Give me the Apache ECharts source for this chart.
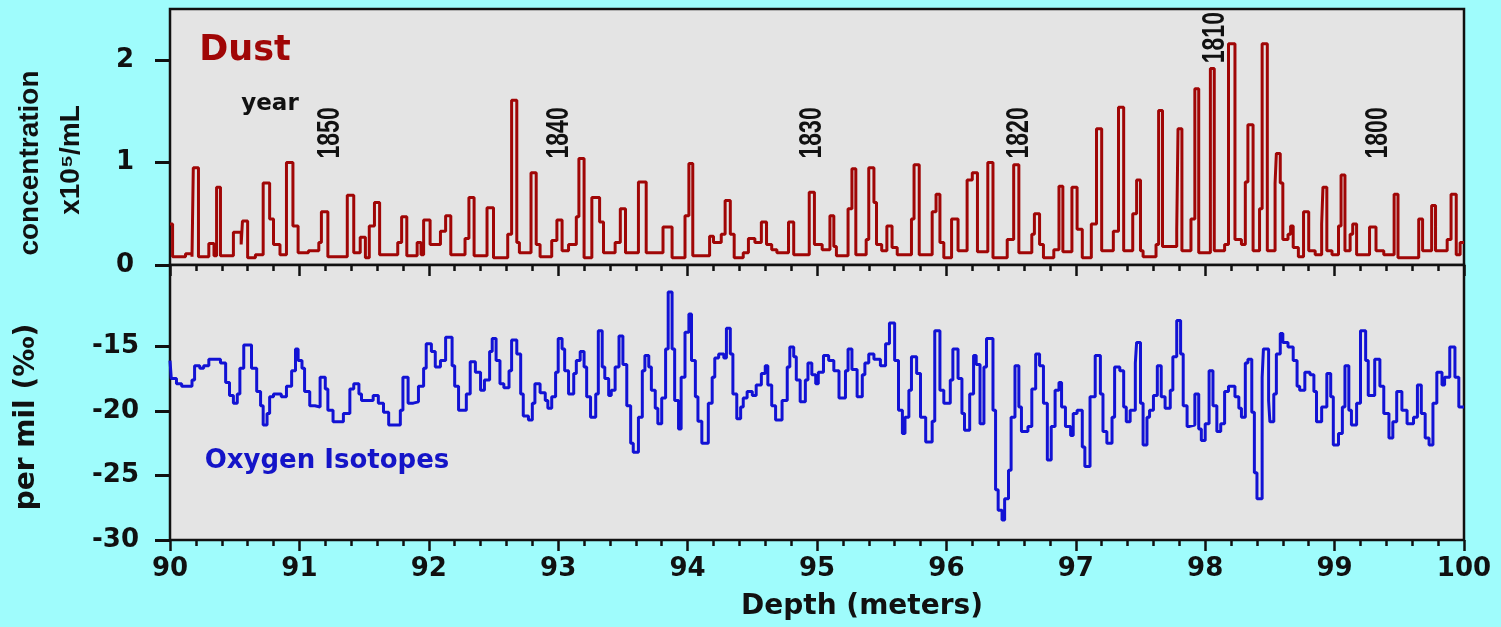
<!DOCTYPE html>
<html><head><meta charset="utf-8">
<script src="https://cdn.jsdelivr.net/npm/echarts@6/dist/echarts.min.js"></script>
<style>html,body{margin:0;padding:0;background:#9ffcfc;}#c{width:1501px;height:627px;}</style>
</head><body><div id="c"></div><script>
// Dust concentration (x10^5 / mL), step values: [depth m, value] holds until next depth
const dust = [
[90.00,0.40],[90.02,0.08],[90.12,0.11],[90.17,0.08],[90.18,0.95],[90.22,0.08],[90.30,0.21],[90.34,0.09],
[90.36,0.76],[90.39,0.09],[90.49,0.32],[90.55,0.20],[90.56,0.43],[90.60,0.07],[90.66,0.10],[90.72,0.80],
[90.77,0.45],[90.80,0.20],[90.85,0.10],[90.90,1.00],[90.95,0.38],[90.99,0.12],[91.07,0.14],[91.15,0.22],
[91.17,0.52],[91.22,0.08],[91.37,0.68],[91.42,0.12],[91.47,0.27],[91.51,0.07],[91.54,0.38],[91.58,0.61],
[91.62,0.10],[91.76,0.22],[91.79,0.47],[91.83,0.09],[91.91,0.22],[91.94,0.10],[91.96,0.44],[92.01,0.20],
[92.09,0.33],[92.13,0.48],[92.17,0.10],[92.28,0.26],[92.31,0.66],[92.35,0.09],[92.45,0.56],[92.50,0.07],
[92.61,0.30],[92.64,1.61],[92.68,0.22],[92.70,0.12],[92.79,0.90],[92.83,0.20],[92.86,0.08],[92.95,0.24],
[92.99,0.44],[93.03,0.14],[93.08,0.20],[93.14,0.47],[93.16,1.04],[93.20,0.07],[93.26,0.66],[93.32,0.42],
[93.35,0.12],[93.44,0.22],[93.48,0.55],[93.52,0.12],[93.62,0.81],[93.68,0.12],[93.81,0.37],[93.88,0.07],
[93.98,0.48],[94.01,0.99],[94.04,0.09],[94.17,0.28],[94.20,0.22],[94.26,0.30],[94.29,0.63],[94.33,0.30],
[94.36,0.07],[94.43,0.12],[94.47,0.26],[94.52,0.22],[94.57,0.42],[94.61,0.20],[94.65,0.15],[94.69,0.12],
[94.78,0.42],[94.82,0.10],[94.94,0.71],[94.98,0.20],[95.04,0.15],[95.10,0.48],[95.13,0.18],[95.15,0.09],
[95.24,0.55],[95.27,0.94],[95.30,0.10],[95.38,0.25],[95.40,0.95],[95.44,0.61],[95.46,0.20],[95.50,0.14],
[95.54,0.38],[95.58,0.17],[95.62,0.10],[95.73,0.45],[95.75,0.98],[95.79,0.10],[95.89,0.52],[95.92,0.69],
[95.95,0.22],[95.98,0.07],[96.04,0.45],[96.09,0.14],[96.16,0.83],[96.20,0.90],[96.24,0.13],[96.32,1.00],
[96.36,0.07],[96.47,0.25],[96.52,0.98],[96.56,0.12],[96.66,0.30],[96.68,0.50],[96.72,0.20],[96.75,0.07],
[96.83,0.15],[96.87,0.77],[96.90,0.13],[96.97,0.76],[97.01,0.35],[97.05,0.07],[97.12,0.40],[97.16,1.33],
[97.20,0.14],[97.29,0.33],[97.33,1.54],[97.37,0.14],[97.44,0.50],[97.47,0.83],[97.50,0.14],[97.52,0.08],
[97.62,0.20],[97.64,1.51],[97.67,0.18],[97.78,0.35],[97.79,1.33],[97.82,0.14],[97.89,0.45],[97.92,1.72],
[97.95,0.12],[98.04,1.92],[98.07,0.14],[98.15,0.20],[98.18,2.16],[98.23,0.25],[98.28,0.20],[98.31,0.81],
[98.33,1.37],[98.37,0.14],[98.42,0.55],[98.44,2.16],[98.48,0.14],[98.54,0.80],[98.55,1.09],[98.58,0.80],
[98.60,0.25],[98.64,0.30],[98.66,0.38],[98.68,0.17],[98.72,0.08],[98.76,0.52],[98.80,0.14],[98.85,0.10],
[98.90,0.40],[98.91,0.76],[98.94,0.14],[98.98,0.10],[99.03,0.38],[99.05,0.88],[99.08,0.14],[99.12,0.30],
[99.14,0.40],[99.17,0.10],[99.27,0.37],[99.32,0.14],[99.38,0.10],[99.46,0.69],[99.49,0.07],[99.65,0.45],
[99.68,0.14],[99.75,0.58],[99.78,0.14],[99.87,0.25],[99.90,0.69],[99.94,0.10],[99.97,0.22],[100.00,0.22]
];
// Oxygen isotopes (per mil), step values: [depth m, value]
const oxygen = [
[90.00,-16.1],[90.01,-17.5],[90.05,-17.9],[90.09,-18.1],[90.17,-17.6],[90.19,-16.5],[90.23,-16.7],[90.26,-16.5],
[90.30,-16.0],[90.39,-16.3],[90.43,-17.8],[90.46,-18.8],[90.49,-19.4],[90.52,-18.7],[90.54,-16.7],[90.57,-14.9],
[90.63,-16.7],[90.67,-18.5],[90.70,-19.6],[90.72,-21.1],[90.75,-20.2],[90.77,-18.9],[90.80,-18.7],[90.86,-18.9],
[90.90,-18.1],[90.94,-16.9],[90.97,-15.2],[90.99,-16.1],[91.02,-16.7],[91.04,-18.5],[91.08,-19.6],[91.12,-19.7],
[91.16,-17.4],[91.20,-18.3],[91.22,-19.95],[91.26,-20.85],[91.34,-20.2],[91.39,-18.3],[91.42,-17.9],[91.46,-18.7],
[91.48,-19.2],[91.57,-18.8],[91.61,-19.4],[91.65,-20.1],[91.69,-21.1],[91.78,-19.95],[91.80,-17.4],[91.84,-19.4],
[91.88,-19.3],[91.92,-18.1],[91.96,-16.7],[91.98,-14.8],[92.02,-15.4],[92.05,-16.6],[92.09,-16.1],[92.13,-14.3],
[92.18,-16.5],[92.20,-18.1],[92.23,-19.95],[92.29,-18.7],[92.32,-16.2],[92.36,-17.0],[92.40,-18.4],[92.43,-17.6],
[92.47,-15.4],[92.49,-14.4],[92.52,-16.1],[92.55,-17.9],[92.58,-18.2],[92.62,-16.9],[92.64,-14.5],[92.68,-15.6],
[92.71,-18.7],[92.73,-20.4],[92.77,-20.7],[92.80,-19.4],[92.82,-17.9],[92.86,-18.6],[92.90,-19.2],[92.92,-19.8],
[92.95,-18.9],[92.98,-17.0],[93.00,-14.4],[93.03,-15.2],[93.05,-16.9],[93.08,-18.7],[93.12,-17.1],[93.14,-16.1],
[93.17,-15.4],[93.20,-16.6],[93.22,-18.9],[93.25,-20.5],[93.29,-18.7],[93.31,-13.8],[93.34,-16.6],[93.36,-17.5],
[93.39,-18.8],[93.41,-18.4],[93.44,-16.6],[93.47,-14.2],[93.50,-16.4],[93.53,-19.6],[93.56,-22.5],[93.58,-23.2],
[93.62,-20.5],[93.65,-16.9],[93.67,-15.7],[93.70,-16.6],[93.72,-18.4],[93.75,-19.8],[93.77,-21.0],[93.80,-19.0],
[93.83,-15.2],[93.85,-10.8],[93.88,-15.2],[93.90,-19.2],[93.93,-21.4],[93.95,-17.4],[93.98,-13.9],[94.01,-12.5],
[94.03,-16.1],[94.06,-18.9],[94.08,-20.8],[94.11,-22.5],[94.16,-19.4],[94.19,-17.4],[94.21,-15.9],[94.24,-15.6],
[94.28,-15.9],[94.30,-13.6],[94.33,-15.6],[94.35,-18.7],[94.38,-20.6],[94.41,-19.7],[94.43,-19.0],[94.46,-18.5],
[94.50,-18.8],[94.53,-18.0],[94.57,-17.1],[94.60,-16.5],[94.62,-18.0],[94.65,-19.6],[94.68,-20.7],[94.73,-19.2],
[94.77,-16.6],[94.79,-15.05],[94.82,-15.8],[94.84,-17.6],[94.87,-19.3],[94.91,-17.6],[94.93,-16.3],[94.96,-17.2],
[94.99,-17.9],[95.01,-17.0],[95.05,-15.7],[95.09,-16.1],[95.13,-16.9],[95.17,-19.0],[95.22,-16.9],[95.24,-15.2],
[95.27,-16.8],[95.31,-18.9],[95.35,-17.2],[95.37,-16.3],[95.40,-15.6],[95.44,-16.0],[95.49,-16.5],[95.53,-14.8],
[95.56,-13.2],[95.60,-16.1],[95.63,-19.95],[95.66,-21.75],[95.68,-20.5],[95.71,-18.4],[95.73,-15.8],[95.77,-17.1],
[95.80,-20.5],[95.84,-22.4],[95.89,-20.8],[95.91,-13.8],[95.95,-18.4],[95.98,-19.4],[96.03,-17.6],[96.05,-15.2],
[96.09,-17.5],[96.12,-20.2],[96.14,-21.5],[96.18,-18.7],[96.21,-15.7],[96.23,-16.4],[96.26,-21.0],[96.29,-16.6],
[96.31,-14.4],[96.36,-19.95],[96.38,-26.1],[96.40,-27.7],[96.43,-28.45],[96.45,-26.8],[96.48,-24.6],[96.50,-20.5],
[96.53,-16.5],[96.56,-19.7],[96.58,-21.6],[96.63,-21.2],[96.66,-18.3],[96.69,-15.6],[96.72,-16.5],[96.75,-19.4],
[96.78,-23.8],[96.81,-21.2],[96.84,-18.4],[96.87,-17.8],[96.89,-19.7],[96.92,-21.2],[96.96,-21.9],[96.98,-20.2],
[97.01,-19.95],[97.05,-22.8],[97.07,-24.3],[97.11,-18.9],[97.15,-15.7],[97.19,-18.7],[97.21,-21.6],[97.24,-22.5],
[97.28,-20.5],[97.30,-16.6],[97.34,-16.9],[97.37,-19.7],[97.39,-20.85],[97.42,-19.95],[97.46,-16.3],[97.47,-14.7],
[97.50,-19.4],[97.52,-22.65],[97.55,-20.5],[97.57,-19.95],[97.60,-18.8],[97.63,-16.5],[97.66,-18.9],[97.69,-19.8],
[97.73,-18.4],[97.75,-15.8],[97.78,-13.0],[97.81,-15.6],[97.83,-19.6],[97.86,-21.2],[97.88,-21.1],[97.92,-18.7],
[97.95,-21.4],[97.97,-22.3],[98.00,-21.0],[98.03,-16.9],[98.06,-19.6],[98.09,-21.6],[98.12,-21.0],[98.15,-18.5],
[98.18,-18.1],[98.23,-18.9],[98.26,-19.8],[98.28,-20.5],[98.31,-16.3],[98.33,-16.0],[98.36,-20.1],[98.38,-24.8],
[98.40,-26.8],[98.44,-17.4],[98.45,-15.2],[98.49,-19.2],[98.50,-20.85],[98.53,-18.7],[98.55,-15.6],[98.58,-14.0],
[98.60,-14.7],[98.64,-15.05],[98.68,-16.1],[98.71,-18.1],[98.73,-18.4],[98.77,-17.0],[98.81,-17.2],[98.84,-18.5],
[98.86,-20.85],[98.90,-19.7],[98.94,-17.1],[98.97,-18.9],[98.99,-22.65],[99.03,-21.75],[99.06,-19.7],[99.08,-16.5],
[99.11,-19.95],[99.13,-21.1],[99.17,-19.4],[99.20,-13.8],[99.24,-16.1],[99.26,-18.8],[99.31,-16.0],[99.35,-18.1],
[99.38,-20.2],[99.42,-22.1],[99.45,-20.85],[99.48,-18.5],[99.52,-19.95],[99.56,-21.0],[99.61,-20.5],[99.64,-18.0],
[99.67,-20.2],[99.70,-22.1],[99.73,-22.65],[99.76,-19.4],[99.79,-17.0],[99.83,-18.0],[99.85,-17.4],[99.89,-15.05],
[99.93,-17.4],[99.96,-19.7],[100.00,-19.7]
];
const dustTicks = [0, 1, 2];
const oxygenTicks = [-30, -25, -20, -15];
const yearNames = ['1850', '1840', '1830', '1820', '1810', '1800'];
const yearDepths = [91.24, 93.01, 94.96, 96.56, 98.08, 99.34];
const yearLevels = [1.29, 1.29, 1.29, 1.29, 2.22, 1.29];

const FONT = 'DejaVu Sans';
const chart = echarts.init(document.getElementById('c'), null, {renderer: 'canvas'});
const xCommon = {
  type: 'value', min: 90, max: 100, interval: 1,
  axisLine: {show: true, onZero: false, lineStyle: {color: '#111', width: 2}},
  axisTick: {show: true, inside: false, length: 11, lineStyle: {color: '#111', width: 2.5}},
  minorTick: {show: true, splitNumber: 5, length: 6, lineStyle: {color: '#111', width: 2.5}},
  splitLine: {show: false}
};
const yCommon = {
  type: 'value',
  axisLine: {show: true, onZero: false, lineStyle: {color: '#111', width: 2}},
  axisTick: {show: true, inside: false, length: 15, lineStyle: {color: '#111', width: 3}},
  splitLine: {show: false}
};
const labelStyle = {fontFamily: FONT, fontWeight: 'bold', fontSize: 26, color: '#111'};
chart.setOption({
  animation: false,
  backgroundColor: '#9ffcfc',
  grid: [
    {left: 170, right: 37, top: 9, height: 256, show: true, backgroundColor: '#e4e4e4', borderColor: '#111', borderWidth: 2.5},
    {left: 170, right: 37, top: 265, height: 275, show: true, backgroundColor: '#e4e4e4', borderColor: '#111', borderWidth: 2.5}
  ],
  xAxis: [
    Object.assign({}, xCommon, {gridIndex: 0, axisLabel: {show: false}}),
    Object.assign({}, xCommon, {gridIndex: 1, axisLabel: Object.assign({margin: 16}, labelStyle)})
  ],
  yAxis: [
    Object.assign({}, yCommon, {gridIndex: 0, min: 0, max: 2.5,
      axisTick: Object.assign({}, yCommon.axisTick, {customValues: dustTicks}),
      axisLabel: Object.assign({margin: 36, customValues: dustTicks}, labelStyle)}),
    Object.assign({}, yCommon, {gridIndex: 1, min: -30, max: -8.7,
      axisTick: Object.assign({}, yCommon.axisTick, {customValues: oxygenTicks}),
      axisLabel: Object.assign({margin: 31, customValues: oxygenTicks}, labelStyle)})
  ],
  series: [
    {type: 'line', xAxisIndex: 0, yAxisIndex: 0, data: dust, step: 'end', showSymbol: false,
     lineStyle: {color: '#a00606', width: 3}, clip: true},
    {type: 'line', xAxisIndex: 1, yAxisIndex: 1, data: oxygen, step: 'end', showSymbol: false,
     lineStyle: {color: '#1212d4', width: 3}, clip: true}
  ]
});

const graphics = [
  {type: 'text', x: 30, y: 163, rotation: Math.PI / 2,
   style: {text: 'concentration', fontFamily: 'Liberation Sans', fontWeight: 'bold', fontSize: 28, fill: '#111', align: 'center', verticalAlign: 'middle'}},
  {type: 'text', x: 71, y: 160, rotation: Math.PI / 2,
   style: {text: 'x10\u2075/mL', fontFamily: 'Liberation Sans', fontWeight: 'bold', fontSize: 28, fill: '#111', align: 'center', verticalAlign: 'middle'}},
  {type: 'text', x: 27, y: 417, rotation: Math.PI / 2,
   style: {text: 'per mil (\u2030)', fontFamily: FONT, fontWeight: 'bold', fontSize: 28, fill: '#111', align: 'center', verticalAlign: 'middle'}},
  {type: 'text', x: 245, y: 51,
   style: {text: 'Dust', fontFamily: FONT, fontWeight: 'bold', fontSize: 35, fill: '#a00606', align: 'center', verticalAlign: 'middle'}},
  {type: 'text', x: 270, y: 104,
   style: {text: 'year', fontFamily: FONT, fontWeight: 'bold', fontSize: 23, fill: '#111', align: 'center', verticalAlign: 'middle'}},
  {type: 'text', x: 327, y: 461,
   style: {text: 'Oxygen Isotopes', fontFamily: FONT, fontWeight: 'bold', fontSize: 26, fill: '#1414c8', align: 'center', verticalAlign: 'middle'}},
  {type: 'text', x: 862, y: 607,
   style: {text: 'Depth (meters)', fontFamily: FONT, fontWeight: 'bold', fontSize: 28, fill: '#111', align: 'center', verticalAlign: 'middle'}}
];
yearNames.forEach(function (name, i) {
  const p = chart.convertToPixel({gridIndex: 0}, [yearDepths[i], yearLevels[i]]);
  graphics.push({type: 'text', x: p[0], y: p[1], rotation: Math.PI / 2, scaleX: 0.72,
    style: {text: name, fontFamily: 'Liberation Sans', fontWeight: 'bold', fontSize: 32, fill: '#111', align: 'center', verticalAlign: 'middle'}});
});
chart.setOption({graphic: graphics});
</script></body></html>
